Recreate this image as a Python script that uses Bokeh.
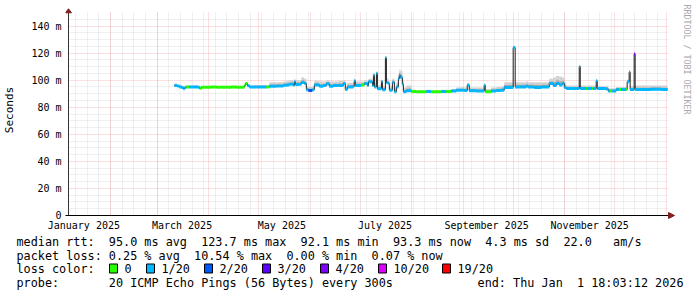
import math
from bokeh.plotting import figure
from bokeh.layouts import column, row
from bokeh.models import FixedTicker, LinearAxis, Range1d, ColumnDataSource, Grid
from bokeh.core.properties import value
from bokeh.embed import file_html
from bokeh.resources import INLINE

# ---------------- data (day number since 2025-01-01) ----------------
day_of_2025 = [69.4, 71.0, 72.4, 73.6, 74.8, 75.6, 76.6, 78.4, 80.8, 83.6,
               84.5, 85.7, 88.7, 91.7, 94.7, 97.7, 100.7, 103.7, 106.7, 109.7,
               111.5, 112.1, 113.3, 114.5, 118.7, 121.7, 124.7, 126.5, 130.7, 134.9,
               137.0, 138.5, 140.9, 141.5, 142.1, 144.5, 145.7, 147.5, 148.7, 149.9,
               152.3, 153.5, 156.5, 158.9, 160.7, 162.5, 164.9, 167.9, 170.9, 172.1,
               173.3, 176.9, 177.5, 178.1, 181.7, 183.6, 185.4, 186.0, 188.4, 189.0,
               189.6, 190.8, 191.4, 193.8, 194.4, 196.2, 196.8, 198.0, 198.6, 200.4,
               201.6, 202.8, 204.0, 204.6, 205.2, 206.4, 207.0, 208.8, 211.8, 214.8,
               217.8, 220.8, 223.8, 226.8, 229.8, 232.8, 235.8, 238.8, 241.8, 243.6,
               245.4, 246.6, 250.8, 253.8, 255.6, 256.2, 259.8, 262.8, 265.8, 267.6,
               273.0, 274.2, 277.8, 280.8, 282.0, 285.7, 289.9, 294.7, 297.1, 298.9,
               300.7, 302.5, 303.7, 304.9, 310.9, 312.7, 313.3, 316.9, 317.5, 320.5,
               321.1, 322.9, 323.5, 328.9, 330.1, 331.3, 332.5, 334.9, 336.7, 337.9,
               340.9, 341.5, 342.7, 343.3, 345.7, 346.3, 349.9, 355.9, 361.9]
median_ms = [96.0, 95.6, 95.0, 94.5, 93.6, 94.6, 95.0, 95.0, 95.0, 94.8,
             94.0, 94.8, 94.8, 95.0, 94.8, 94.8, 94.8, 95.0, 94.8, 94.8,
             96.0, 97.5, 95.8, 95.0, 95.0, 95.0, 95.0, 95.5, 95.6, 96.2,
             96.5, 97.0, 96.2, 98.8, 96.8, 97.0, 98.3, 97.5, 93.0, 92.4,
             93.0, 96.5, 95.5, 96.0, 97.3, 95.5, 96.0, 96.0, 97.5, 93.1,
             95.0, 95.5, 99.5, 96.0, 96.5, 97.5, 96.0, 98.8, 96.0, 103.7,
             95.0, 105.0, 93.6, 99.0, 93.0, 116.5, 98.0, 97.5, 92.6, 98.5,
             91.5, 95.0, 101.0, 103.7, 102.0, 97.0, 91.5, 92.2, 91.6, 91.4,
             91.4, 91.6, 91.4, 91.4, 91.6, 91.6, 92.0, 92.6, 92.6, 92.4,
             96.3, 92.2, 92.0, 92.0, 96.3, 91.4, 92.0, 92.4, 92.6, 94.6,
             124.0, 95.0, 95.0, 95.5, 95.0, 94.6, 95.0, 97.5, 96.0, 97.5,
             96.5, 97.5, 94.5, 93.8, 93.8, 110.0, 93.8, 93.8, 93.8, 93.8,
             93.8, 99.5, 93.8, 93.5, 92.0, 92.0, 92.0, 93.1, 93.1, 93.1,
             93.1, 98.8, 106.0, 93.1, 119.3, 93.1, 93.1, 93.3, 93.1]
loss_level = [1, 1, 1, 1, 1, 1, 0, 1, 1, 1,
              0, 0, 0, 0, 0, 0, 0, 0, 0, 0,
              0, 0, 1, 1, 1, 1, 0, 1, 1, 1,
              1, 1, 1, 1, 1, 1, 1, 1, 1, 2,
              1, 1, 1, 1, 1, 1, 1, 1, 1, 1,
              1, 1, 1, 1, 0, 1, 1, 1, 1, 1,
              1, 1, 1, 1, 1, 1, 1, 1, 1, 1,
              1, 1, 1, 1, 1, 1, 1, 1, 0, 0,
              0, 1, 0, 0, 1, 0, 1, 1, 1, 1,
              1, 1, 1, 1, 1, 0, 1, 1, 1, 1,
              1, 1, 1, 1, 1, 1, 1, 1, 1, 1,
              1, 1, 1, 1, 1, 1, 1, 0, 1, 0,
              1, 1, 1, 1, 1, 0, 1, 1, 0, 1,
              0, 1, 1, 1, 4, 1, 1, 1, 1]
smoke_top_ms = [97.5, 97.0, 96.5, 96.0, 95.0, 96.0, 96.0, 96.0, 96.0, 95.8,
                95.0, 95.5, 95.5, 95.6, 95.5, 95.5, 95.5, 95.6, 95.5, 95.5,
                97.0, 98.5, 97.0, 96.0, 96.2, 96.5, 96.5, 98.5, 98.5, 99.0,
                99.5, 100.0, 99.5, 101.0, 100.0, 100.0, 102.0, 101.0, 95.5, 95.0,
                95.5, 99.5, 99.0, 99.0, 100.0, 99.0, 99.0, 99.5, 100.0, 95.5,
                98.0, 98.5, 101.0, 99.0, 99.0, 100.0, 99.0, 101.0, 99.0, 105.5,
                98.0, 106.5, 96.0, 100.5, 95.5, 117.5, 101.0, 100.0, 95.5, 101.0,
                94.5, 98.0, 105.0, 108.0, 107.0, 101.0, 94.5, 96.0, 93.0, 92.5,
                92.5, 93.0, 92.5, 92.5, 93.0, 93.0, 93.5, 94.5, 95.0, 94.5,
                98.0, 94.5, 94.5, 94.5, 97.5, 93.5, 94.5, 95.0, 95.5, 98.5,
                125.5, 98.5, 98.5, 99.0, 98.5, 98.5, 98.5, 101.0, 102.0, 103.0,
                102.5, 102.0, 98.5, 96.0, 96.0, 111.0, 96.0, 96.0, 96.0, 96.0,
                96.0, 100.5, 95.5, 95.5, 94.0, 94.0, 94.0, 95.0, 95.0, 95.0,
                95.0, 100.5, 107.0, 95.5, 120.5, 96.0, 96.0, 96.0, 96.0]
series_end_day = 365.75
graph_start_day = 5.75

loss_labels = ["0", "1/20", "2/20", "3/20", "4/20", "10/20", "19/20"]
loss_colors = ["#26ff00", "#00b8ff", "#0059ff", "#5e00ff", "#7e00ff", "#dd00ff", "#ff0000"]

month_start_days = [31, 59, 90, 120, 151, 181, 212, 243, 273, 304, 334, 365]
week_start_days = [10, 17, 24, 31, 38, 45, 52, 59, 66, 73, 80, 87, 94, 101, 108, 115,
                   122, 129, 136, 143, 150, 157, 164, 171, 178, 185, 192, 199, 206,
                   213, 220, 227, 234, 241, 248, 255, 262, 269, 276, 283, 290, 297,
                   304, 311, 318, 325, 332, 339, 346, 353, 360]
month_label_days = [15, 74, 134, 196, 257, 319]
month_labels = ["January 2025", "March 2025", "May 2025", "July 2025",
                "September 2025", "November 2025"]
y_ticks = [0, 20, 40, 60, 80, 100, 120, 140]
y_tick_labels = ["0", "20 m", "40 m", "60 m", "80 m", "100 m", "120 m", "140 m"]
y_minor = [5, 10, 15, 25, 30, 35, 45, 50, 55, 65, 70, 75, 85, 90, 95,
           105, 110, 115, 125, 130, 135, 145]
y_max = 150

rtt_stats = [95.0, 123.7, 92.1, 93.3, 4.3]
rtt_am_s = 22.0
loss_stats = [0.25, 10.54, 0.00, 0.07]
probe_text = "20 ICMP Echo Pings (56 Bytes) every 300s"
end_text = "end: Thu Jan  1 18:03:12 2026"
credit_text = "RRDTOOL / TOBI OETIKER"

# ---------------- layout constants (page pixels) ----------------
W, H = 697, 297
MAIN_W, MAIN_H = 676, 235
AXIS_X, AXIS_Y = 67, 215          # where the two axes cross on the page
GRAPH_R = 667                      # right end of the time axis
FRAME_L, FRAME_R, FRAME_T, FRAME_B = 64, 676, 0, 219
PX_PER_DAY = 600 / 360.0
PX_PER_MS = 203 / float(y_max)
X_START = graph_start_day - (AXIS_X - FRAME_L) / PX_PER_DAY
X_END = series_end_day + (FRAME_R - GRAPH_R) / PX_PER_DAY
Y_BOTTOM = -(FRAME_B - AXIS_Y) / PX_PER_MS
Y_TOP = (AXIS_Y - FRAME_T) / PX_PER_MS

MONO = "DejaVu Sans Mono"
ARROW = "#7F1F1F"
AXIS = "#333333"
MGRID = "#DE3030"
GRID = "#8F8F8F"


def bare(fig):
    fig.outline_line_color = None
    fig.background_fill_color = "white"
    fig.border_fill_color = "white"
    return fig


def strip(width, height, x0, x1, ybottom, ytop):
    return bare(figure(width=width, height=height, output_backend="svg",
                       toolbar_location=None, x_range=Range1d(x0, x1),
                       y_range=Range1d(ybottom, ytop), x_axis_type=None,
                       y_axis_type=None, min_border=0, min_border_left=0,
                       min_border_right=0, min_border_top=0, min_border_bottom=0))


# ---------------- main chart ----------------
p = bare(figure(width=MAIN_W, height=MAIN_H, output_backend="svg", toolbar_location=None,
                x_range=Range1d(X_START, X_END), y_range=Range1d(Y_BOTTOM, Y_TOP),
                x_axis_type=None, y_axis_type=None,
                min_border_left=FRAME_L, min_border_right=MAIN_W - FRAME_R,
                min_border_top=FRAME_T, min_border_bottom=MAIN_H - FRAME_B))

grid_style = dict(grid_line_color=MGRID, grid_line_alpha=0.3, grid_line_dash="1 1",
                  minor_grid_line_color=GRID, minor_grid_line_alpha=0.26,
                  minor_grid_line_dash="1 1")
try:
    xgrid = Grid(dimension=0, ticker=FixedTicker(ticks=month_start_days,
                                                 minor_ticks=week_start_days), **grid_style)
    ygrid = Grid(dimension=1, ticker=FixedTicker(ticks=y_ticks, minor_ticks=y_minor),
                 **grid_style)
    xgrid.cross_bounds = (0, y_max)
    ygrid.cross_bounds = (graph_start_day, series_end_day)
    p.add_layout(xgrid)
    p.add_layout(ygrid)
except Exception:
    # grid lines bounded to the graph area, drawn from the same tick lists
    for xs, col, alpha in ((week_start_days, GRID, 0.26), (month_start_days, MGRID, 0.3)):
        p.segment(x0=xs, y0=[0] * len(xs), x1=xs, y1=[y_max] * len(xs),
                  line_color=col, line_alpha=alpha, line_dash="1 1", line_width=1)
    for ys, col, alpha in ((y_minor, GRID, 0.26), (y_ticks, MGRID, 0.3)):
        p.segment(x0=[graph_start_day] * len(ys), y0=ys, x1=[series_end_day] * len(ys),
                  y1=ys, line_color=col, line_alpha=alpha, line_dash="1 1", line_width=1)

yaxis = LinearAxis(ticker=FixedTicker(ticks=y_ticks, minor_ticks=[]),
                   major_label_overrides=dict(zip(y_ticks, y_tick_labels)),
                   axis_label="Seconds")
yaxis.axis_line_color = None
yaxis.major_tick_out = 0
yaxis.major_tick_in = 0
yaxis.minor_tick_out = 0
yaxis.major_label_text_font = MONO
yaxis.major_label_text_font_size = "10px"
yaxis.major_label_text_color = "black"
yaxis.major_label_standoff = 4
yaxis.axis_label_text_font = MONO
yaxis.axis_label_text_font_size = "11px"
yaxis.axis_label_text_font_style = "normal"
yaxis.axis_label_text_color = "black"
yaxis.axis_label_standoff = 12
p.add_layout(yaxis, "left")

xaxis = LinearAxis(ticker=FixedTicker(ticks=month_label_days, minor_ticks=[]),
                   major_label_overrides=dict(zip(month_label_days, month_labels)))
xaxis.axis_line_color = None
xaxis.major_tick_out = 0
xaxis.major_tick_in = 0
xaxis.minor_tick_out = 0
xaxis.major_label_text_font = MONO
xaxis.major_label_text_font_size = "10px"
xaxis.major_label_text_color = "black"
xaxis.major_label_standoff = 0
p.add_layout(xaxis, "below")

right_edges = day_of_2025[1:] + [series_end_day]
half_band = 1.1
src = ColumnDataSource(dict(
    left=day_of_2025, right=right_edges, med=median_ms,
    smoke_top=smoke_top_ms,
    smoke_mid=[m + (s - m) * 0.45 for m, s in zip(median_ms, smoke_top_ms)],
    lo=[m - half_band for m in median_ms], hi=[m + half_band for m in median_ms],
    color=[loss_colors[k] for k in loss_level]))
p.quad(left="left", right="right", bottom="med", top="smoke_top", source=src,
       fill_color="#d0d0d0", line_color=None)
p.quad(left="left", right="right", bottom="med", top="smoke_mid", source=src,
       fill_color="#a6a6a6", line_color=None)
p.step(x=day_of_2025 + [series_end_day], y=median_ms + [median_ms[-1]], mode="after",
       line_color="#202020", line_width=1)
p.quad(left="left", right="right", bottom="lo", top="hi", source=src,
       fill_color="color", line_color=None)

# axis lines with arrow heads
ms_base = (AXIS_Y - 12.3) / PX_PER_MS
ms_tip = (AXIS_Y - 8.3) / PX_PER_MS
p.segment(x0=[graph_start_day], y0=[0], x1=[graph_start_day], y1=[ms_base],
          line_color=AXIS, line_width=1)
p.segment(x0=[graph_start_day - 5 / PX_PER_DAY], y0=[0],
          x1=[series_end_day + 1 / PX_PER_DAY], y1=[0], line_color="black", line_width=1)
hw = 3 / PX_PER_DAY
p.patch(x=[graph_start_day - hw, graph_start_day + hw, graph_start_day],
        y=[ms_base, ms_base, ms_tip], fill_color=ARROW, line_color=ARROW, line_width=1)
hh = 3 / PX_PER_MS
xb = series_end_day + 1 / PX_PER_DAY
p.patch(x=[xb, xb, xb + 6 / PX_PER_DAY], y=[-hh, hh, 0],
        fill_color=ARROW, line_color=ARROW, line_width=1)

# ---------------- right strip: credit ----------------
side = strip(W - MAIN_W, MAIN_H, MAIN_W, W, FRAME_B, FRAME_T)
side.text(x=[686], y=[4], text=[credit_text], angle=-math.pi / 2,
          text_font=value(MONO), text_font_size=value("8.3px"), text_color="#a8a8a8",
          text_align="left", text_baseline="middle")

# ---------------- bottom strip: statistics & legend ----------------
NB = "\u00a0"


def keep(s):
    return s.replace(" ", NB)


bottom = strip(W, H - MAIN_H, 0, W, H, MAIN_H)

line1 = ("median rtt:  %.1f ms avg  %.1f ms max  %.1f ms min  %.1f ms now  %.1f ms sd  %.1f   am/s"
         % (rtt_stats[0], rtt_stats[1], rtt_stats[2], rtt_stats[3], rtt_stats[4], rtt_am_s))
line2 = ("packet loss: %.2f %% avg  %.2f %% max  %.2f %% min  %.2f %% now"
         % tuple(loss_stats))
line4 = "probe:       " + probe_text

box_x = [109, 146, 204, 262, 320, 378, 442]
left_texts = [line1, line2, "loss color:", line4] + loss_labels
left_x = [16, 16, 16, 16] + [bx + 15 for bx in box_x]
left_y = [241, 255, 268, 282] + [268] * len(loss_labels)
text_style = dict(text_font=value(MONO), text_font_size=value("11.8px"),
                  text_color="black", text_baseline="middle")
bottom.text(x=left_x, y=left_y, text=[keep(t) for t in left_texts], text_align="left",
            **text_style)
bottom.text(x=[683], y=[282], text=[keep(end_text)], text_align="right", **text_style)
bottom.quad(left=box_x, right=[bx + 8 for bx in box_x], top=[263.5] * len(box_x),
            bottom=[272.5] * len(box_x), fill_color=loss_colors, line_color="black",
            line_width=1)

layout = column(row(p, side, spacing=0), bottom, spacing=0)
open("out.html", "w").write(file_html(layout, INLINE))
